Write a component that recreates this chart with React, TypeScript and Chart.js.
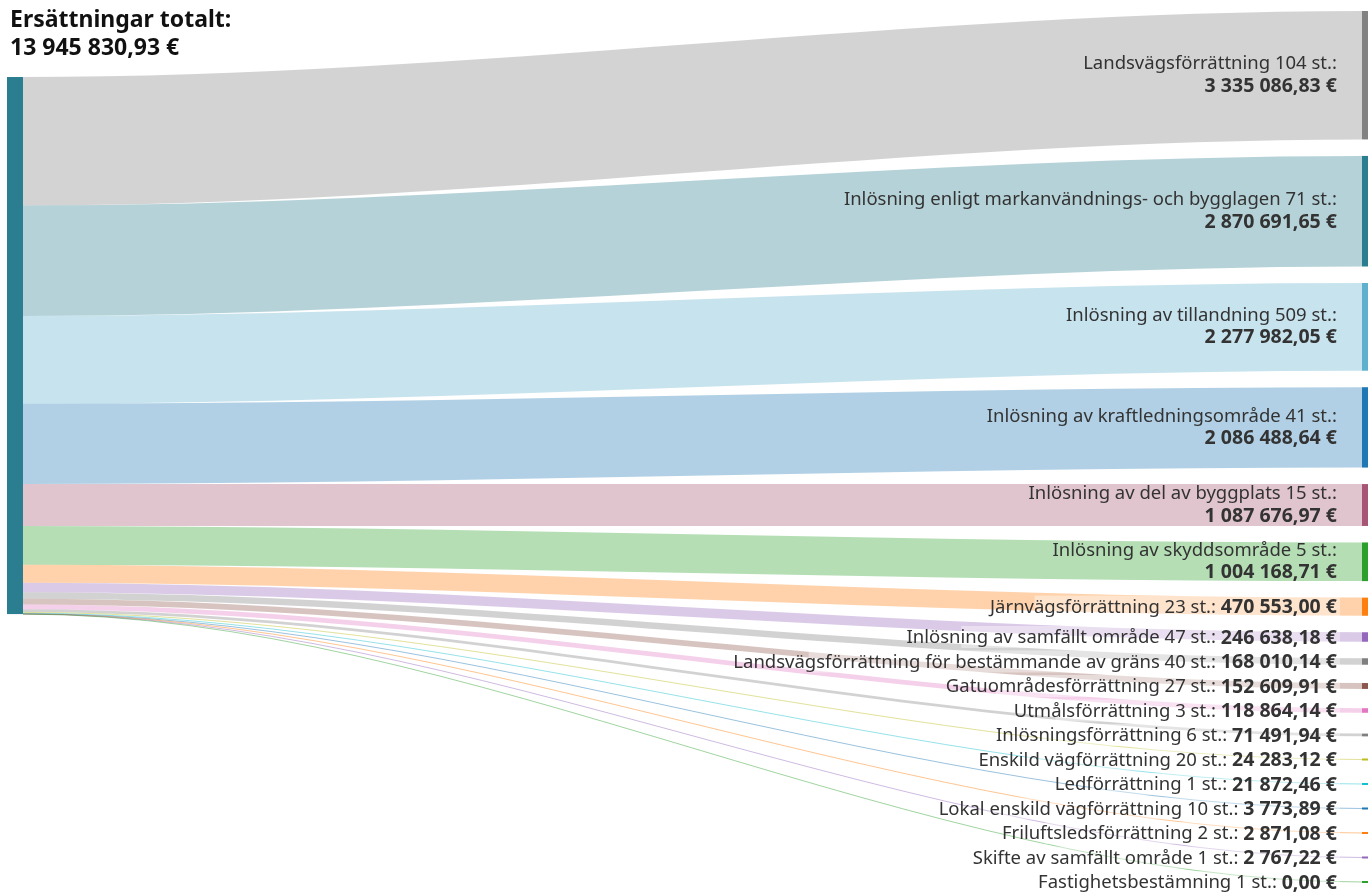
import React, { useEffect, useRef } from 'react';
import { Chart, registerables } from 'chart.js';

Chart.register(...registerables);

// ---------- data ----------
const sourceTitle = 'Ersättningar totalt:';
const sourceTotal = 13945830.93;
const sourceColor = '#2b7e90';

const categories = [
  'Landsvägsförrättning',
  'Inlösning enligt markanvändnings- och bygglagen',
  'Inlösning av tillandning',
  'Inlösning av kraftledningsområde',
  'Inlösning av del av byggplats',
  'Inlösning av skyddsområde',
  'Järnvägsförrättning',
  'Inlösning av samfällt område',
  'Landsvägsförrättning för bestämmande av gräns',
  'Gatuområdesförrättning',
  'Utmålsförrättning',
  'Inlösningsförrättning',
  'Enskild vägförrättning',
  'Ledförrättning',
  'Lokal enskild vägförrättning',
  'Friluftsledsförrättning',
  'Skifte av samfällt område',
  'Fastighetsbestämning',
];

const counts = [104, 71, 509, 41, 15, 5, 23, 47, 40, 27, 3, 6, 20, 1, 10, 2, 1, 1];

const values = [
  3335086.83, 2870691.65, 2277982.05, 2086488.64, 1087676.97, 1004168.71, 470553.0,
  246638.18, 168010.14, 152609.91, 118864.14, 71491.94, 24283.12, 21872.46, 3773.89,
  2871.08, 2767.22, 0.0,
];

const nodeColors = [
  '#828282', '#2b7e90', '#5eb0cf', '#1f78b4', '#a65674', '#2ca02c', '#ff7f0e',
  '#9467bd', '#7f7f7f', '#8c564b', '#e377c2', '#7f7f7f', '#bcbd22', '#17becf',
  '#1f77b4', '#ff7f0e', '#9467bd', '#2ca02c',
];

// ---------- layout (y axis in euros, x axis in columns 0..1) ----------
const Y_RANGE = 23.163e6;
const LEFT_TOP = 2.0e6;
const RIGHT_TOP = 0.2856e6;
const NODE_PAD = 0.4285e6;
const LABEL_STEP = 0.6362e6;
const MIN_NODE = 0.052e6;
const TWO_LINE_MIN = 0.8e6;
const NODE_WIDTH = 0.0118;
const LABEL_OFFSET = 0.0185;
const CURVE = 0.33;
const LINK_ALPHA = 0.35;

const FONT = '"Noto Sans", "Open Sans", sans-serif';
const TEXT_COLOR = '#333333';

function formatEuro(v: number): string {
  const [i, d] = v.toFixed(2).split('.');
  const g = i.replace(/\B(?=(\d{3})+(?!\d))/g, ' ');
  return `${g},${d} €`;
}

function rgba(hex: string, a: number): string {
  const n = parseInt(hex.slice(1), 16);
  return `rgba(${(n >> 16) & 255},${(n >> 8) & 255},${n & 255},${a})`;
}

const sankeyPlugin = {
  id: 'sankeyDraw',
  afterDraw(chart: any) {
    const ctx: CanvasRenderingContext2D = chart.ctx;
    const xs = chart.scales.x;
    const ys = chart.scales.y;
    const X = (v: number) => xs.getPixelForValue(v);
    const Y = (v: number) => ys.getPixelForValue(v);

    const leftX0 = X(0);
    const leftX1 = X(NODE_WIDTH);
    const rightX0 = X(1);
    const rightX1 = X(1 + NODE_WIDTH);

    // right column layout
    const heights = values.map((v) => Math.max(v, MIN_NODE));
    const centers: number[] = [];
    heights.forEach((h, i) => {
      if (i === 0) centers.push(RIGHT_TOP + h / 2);
      else {
        const step = Math.max((heights[i - 1] + h) / 2 + NODE_PAD, LABEL_STEP);
        centers.push(centers[i - 1] + step);
      }
    });

    ctx.save();
    // links
    const dx = rightX0 - leftX1;
    const c1 = leftX1 + dx * CURVE;
    const c2 = rightX0 - dx * CURVE;
    let cum = LEFT_TOP;
    values.forEach((v, i) => {
      const ly0 = Y(cum);
      const ly1 = Y(cum + v);
      const ry0 = Y(centers[i] - v / 2);
      const ry1 = Y(centers[i] + v / 2);
      cum += v;
      const w = ly1 - ly0;
      if (w >= 1.5) {
        ctx.beginPath();
        ctx.moveTo(leftX1, ly0);
        ctx.bezierCurveTo(c1, ly0, c2, ry0, rightX0, ry0);
        ctx.lineTo(rightX0, ry1);
        ctx.bezierCurveTo(c2, ry1, c1, ly1, leftX1, ly1);
        ctx.closePath();
        ctx.fillStyle = rgba(nodeColors[i], LINK_ALPHA);
        ctx.fill();
      } else {
        const lm = (ly0 + ly1) / 2;
        const rm = (ry0 + ry1) / 2;
        ctx.beginPath();
        ctx.moveTo(leftX1, lm);
        ctx.bezierCurveTo(c1, lm, c2, rm, rightX0, rm);
        ctx.lineWidth = Math.max(w, 1);
        ctx.strokeStyle = rgba(nodeColors[i], 0.45);
        ctx.stroke();
      }
    });

    // left node
    const total = values.reduce((a, b) => a + b, 0);
    ctx.fillStyle = sourceColor;
    ctx.fillRect(leftX0, Y(LEFT_TOP), leftX1 - leftX0, Y(LEFT_TOP + total) - Y(LEFT_TOP));

    // right nodes
    heights.forEach((h, i) => {
      const t = Y(centers[i] - h / 2);
      const b = Y(centers[i] + h / 2);
      ctx.fillStyle = nodeColors[i];
      ctx.fillRect(rightX0, t, rightX1 - rightX0, b - t);
    });

    // labels
    const xR = X(1 - LABEL_OFFSET);
    const normal = `18.5px ${FONT}`;
    const bold = `bold 19.5px ${FONT}`;
    ctx.textBaseline = 'middle';
    ctx.textAlign = 'right';
    values.forEach((v, i) => {
      const cy = Y(centers[i]);
      const name = `${categories[i]} ${counts[i]} st.:`;
      const val = formatEuro(v);
      if (heights[i] >= TWO_LINE_MIN) {
        ctx.fillStyle = TEXT_COLOR;
        ctx.font = normal;
        ctx.fillText(name, xR, cy - 11);
        ctx.font = bold;
        ctx.fillText(val, xR, cy + 11);
      } else {
        ctx.font = bold;
        const vw = ctx.measureText(val).width;
        ctx.font = normal;
        const sw = ctx.measureText(' ').width;
        const nw = ctx.measureText(name).width;
        const tw = vw + sw + nw;
        ctx.fillStyle = 'rgba(255,255,255,0.4)';
        ctx.fillRect(xR + 3 - tw * 0.88, cy - 11, tw * 0.88, 22);
        ctx.fillStyle = TEXT_COLOR;
        ctx.font = bold;
        ctx.fillText(val, xR, cy + 1);
        ctx.font = normal;
        ctx.fillText(name, xR - vw - sw, cy + 1);
      }
    });

    // title
    ctx.textAlign = 'left';
    ctx.textBaseline = 'alphabetic';
    ctx.fillStyle = '#111111';
    ctx.font = `bold 23px ${FONT}`;
    const ty = Y(LEFT_TOP);
    ctx.fillText(sourceTitle, leftX0 + 3, ty - 50);
    ctx.fillText(formatEuro(sourceTotal), leftX0 + 3, ty - 22);
    ctx.restore();
  },
};

export default function App() {
  const canvasRef = useRef<HTMLCanvasElement | null>(null);

  useEffect(() => {
    document.body.style.margin = '0';
    document.body.style.overflow = 'hidden';
    const canvas = canvasRef.current;
    if (!canvas) return;
    const chart = new Chart(canvas, {
      type: 'scatter',
      data: { datasets: [] },
      options: {
        animation: false,
        responsive: false,
        layout: { padding: { left: 7, right: 6, top: 0, bottom: 0 } },
        plugins: { legend: { display: false }, tooltip: { enabled: false }, title: { display: false } },
        scales: {
          x: { type: 'linear', min: 0, max: 1, display: false },
          y: { type: 'linear', min: 0, max: Y_RANGE, reverse: true, display: false },
        },
      },
      plugins: [sankeyPlugin],
    });
    return () => chart.destroy();
  }, []);

  return (
    <div style={{ width: 1368, height: 892, position: 'relative' }}>
      <canvas ref={canvasRef} width={1368} height={892} style={{ display: 'block' }} />
    </div>
  );
}
